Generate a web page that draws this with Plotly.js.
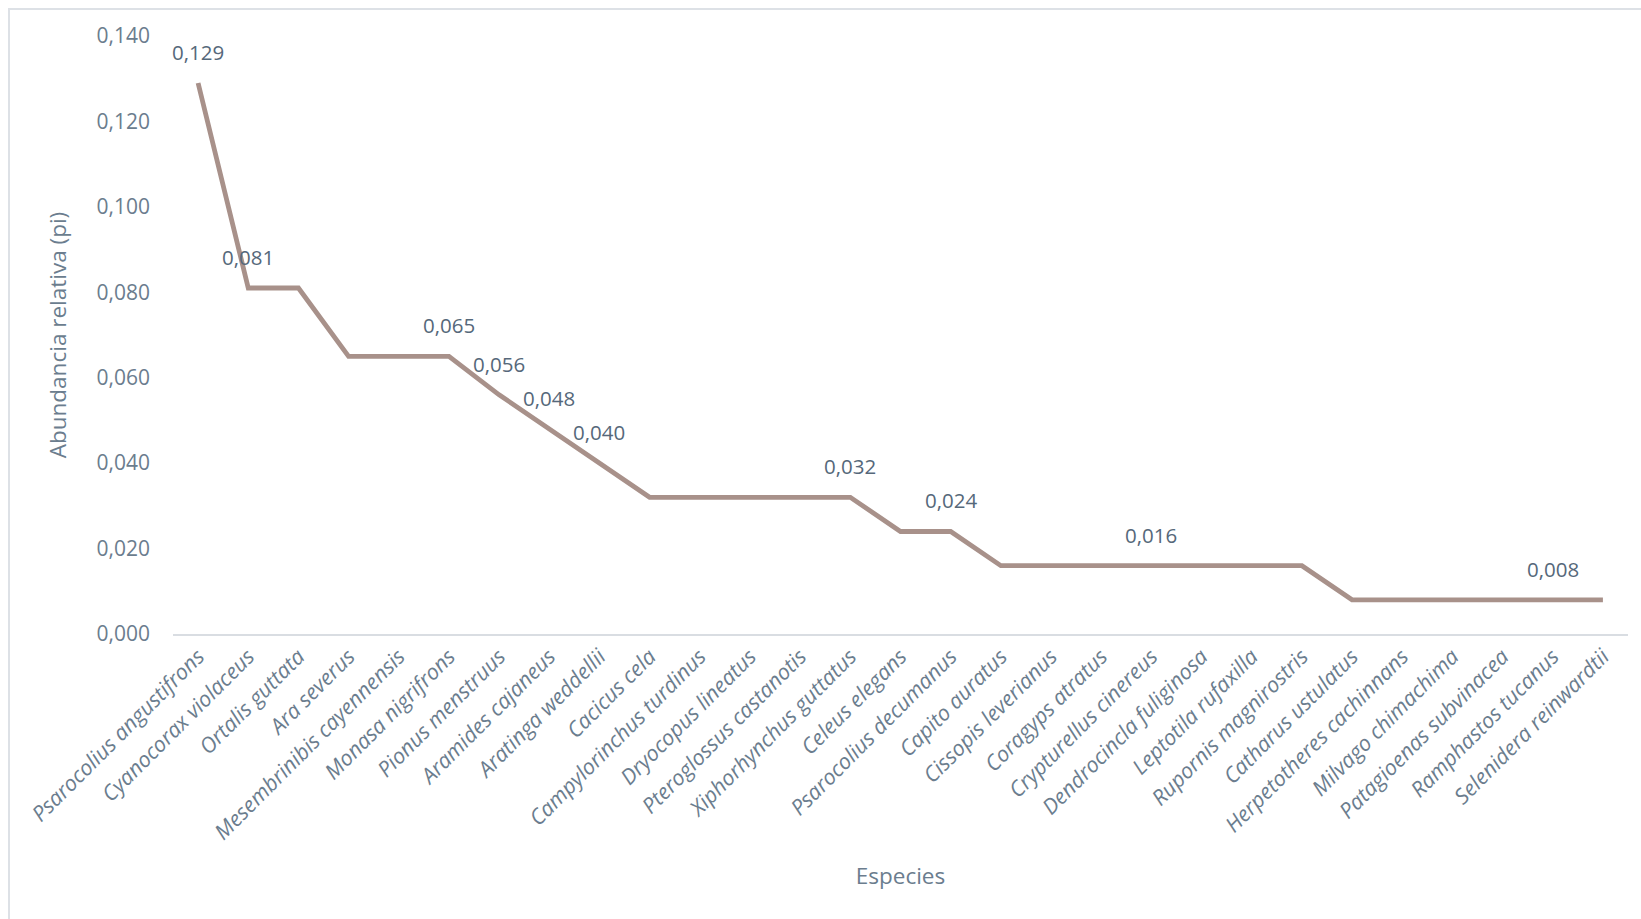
<!DOCTYPE html>
<html>
<head>
<meta charset="utf-8">
<script src="https://cdn.plot.ly/plotly-3.0.1.min.js"></script>
<style>
  html, body { margin: 0; padding: 0; background: #ffffff; overflow: hidden; }
  #chart { position: absolute; left: 0; top: 0; width: 1641px; height: 919px; }
  #frame { position: absolute; left: 8px; top: 8px; width: 1700px; height: 1000px;
           border-top: 2px solid #dde1e6; border-left: 2px solid #dde1e6; pointer-events: none; }
</style>
</head>
<body>
<div id="chart"></div>
<div id="frame"></div>
<script>
const species = [
  "Psarocolius angustifrons", "Cyanocorax violaceus", "Ortalis guttata", "Ara severus",
  "Mesembrinibis cayennensis", "Monasa nigrifrons", "Pionus menstruus", "Aramides cajaneus",
  "Aratinga weddellii", "Cacicus cela", "Campylorinchus turdinus", "Dryocopus lineatus",
  "Pteroglossus castanotis", "Xiphorhynchus guttatus", "Celeus elegans", "Psarocolius decumanus",
  "Capito auratus", "Cissopis leverianus", "Coragyps atratus", "Crypturellus cinereus",
  "Dendrocincla fuliginosa", "Leptotila rufaxilla", "Rupornis magnirostris", "Catharus ustulatus",
  "Herpetotheres cachinnans", "Milvago chimachima", "Patagioenas subvinacea", "Ramphastos tucanus",
  "Selenidera reinwardtii"
];
const abundance = [
  0.129, 0.081, 0.081, 0.065, 0.065, 0.065, 0.056, 0.048, 0.040, 0.032,
  0.032, 0.032, 0.032, 0.032, 0.024, 0.024, 0.016, 0.016, 0.016, 0.016,
  0.016, 0.016, 0.016, 0.008, 0.008, 0.008, 0.008, 0.008, 0.008
];
// indices of the points that carry a data label
const labelledPoints = [0, 1, 5, 6, 7, 8, 13, 15, 19, 27];

const fontFam = '"Open Sans", "Noto Sans", sans-serif';
const tickColor = '#6b7d8e';
const labelColor = '#56687a';

const trace = {
  x: species,
  y: abundance,
  type: 'scatter',
  mode: 'lines',
  line: { color: '#a8918a', width: 4.8 },
  hoverinfo: 'x+y'
};

const annotations = labelledPoints.map(i => ({
  x: species[i],
  y: abundance[i],
  xref: 'x', yref: 'y',
  text: abundance[i].toFixed(3).replace('.', ','),
  showarrow: false,
  yshift: 31,
  font: { family: fontFam, size: 20.5, color: labelColor }
}));

const layout = {
  width: 1641,
  height: 919,
  margin: { l: 173, r: 13, t: 36, b: 285, pad: 0 },
  paper_bgcolor: '#ffffff',
  plot_bgcolor: '#ffffff',
  separators: ',.',
  showlegend: false,
  font: { family: fontFam, color: tickColor },
  xaxis: {
    type: 'category',
    range: [-0.5, 28.5],
    showgrid: false,
    zeroline: false,
    showline: true,
    linecolor: '#d9dde2',
    linewidth: 1.5,
    ticks: '',
    tickangle: -45,
    tickfont: { family: fontFam, size: 21.5, color: tickColor, style: 'italic' },
    title: { text: 'Especies', font: { family: fontFam, size: 22.5, color: tickColor }, standoff: 24 }
  },
  yaxis: {
    range: [0, 0.14],
    dtick: 0.02,
    tick0: 0,
    tickformat: '.3f',
    showgrid: false,
    zeroline: false,
    showline: false,
    ticks: '',
    ticklabelstandoff: 22,
    tickfont: { family: fontFam, size: 21, color: tickColor },
    title: { text: 'Abundancia relativa (pi)', font: { family: fontFam, size: 22.5, color: tickColor }, standoff: 23 }
  },
  annotations: annotations
};

Plotly.newPlot('chart', [trace], layout, { displayModeBar: false, staticPlot: true });
</script>
</body>
</html>
